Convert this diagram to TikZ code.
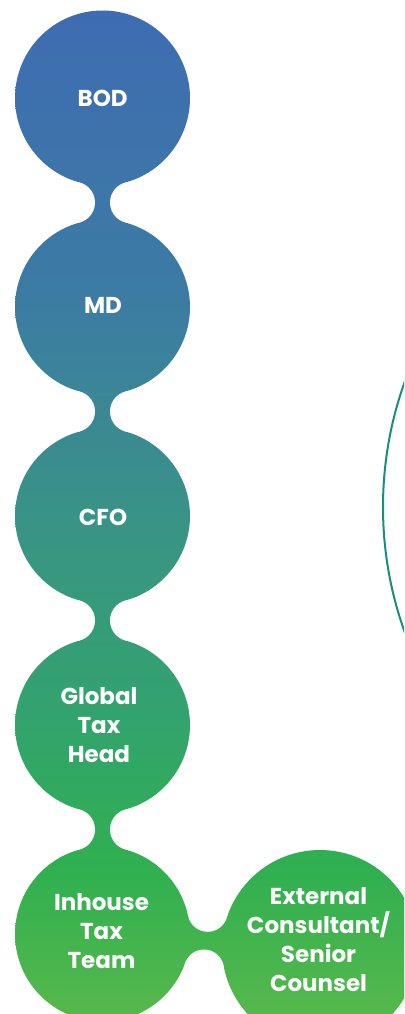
\documentclass[tikz,border=0pt]{standalone}
\usepackage{fontspec}
\setmainfont{Poppins}
\usetikzlibrary{calc}
\definecolor{s1}{RGB}{86,184,76}
\definecolor{s2}{RGB}{48,176,80}
\definecolor{s3}{RGB}{50,164,108}
\definecolor{s4}{RGB}{57,147,134}
\definecolor{s5}{RGB}{60,124,163}
\definecolor{s6}{RGB}{62,108,178}
\definecolor{arcteal}{RGB}{24,141,128}
\pgfdeclareverticalshading{orgshade}{100bp}{color(0bp)=(s1); color(25bp)=(s1); color(32bp)=(s2); color(39.25bp)=(s3); color(49.5bp)=(s4); color(60bp)=(s5); color(74.5bp)=(s6); color(100bp)=(s6)}
\newcommand\gradclip[1]{\begin{scope}\clip #1; \shade[shading=orgshade] (0,0) rectangle (404,1014);\end{scope}}
\newcommand\neckpiece[5]{%
  \path let \p1=(#1), \p2=(#2),
    \n1={veclen(\x2-\x1,\y2-\y1)},
    \n2={#3+#5}, \n3={#4+#5},
    \n4={\n1/2+(\n2-\n3)*(\n2+\n3)/(2*\n1)},
    \n5={sqrt((\n2-\n4)*(\n2+\n4))},
    \n6={(\x2-\x1)/\n1}, \n7={(\y2-\y1)/\n1}
  in coordinate (#1#2fa) at ({\x1+\n4*\n6-\n5*\n7},{\y1+\n4*\n7+\n5*\n6})
     coordinate (#1#2fb) at ({\x1+\n4*\n6+\n5*\n7},{\y1+\n4*\n7-\n5*\n6});
  \gradclip{($(#1)!{#3/(#3+#5)}!(#1#2fa)$) -- ($(#2)!{#4/(#4+#5)}!(#1#2fa)$) -- ($(#2)!{#4/(#4+#5)}!(#1#2fb)$) -- ($(#1)!{#3/(#3+#5)}!(#1#2fb)$) -- cycle}
  \fill[white] (#1#2fa) circle[radius=#5];
  \fill[white] (#1#2fb) circle[radius=#5];
}
\tikzset{
  lbl/.style={text=white, font=\fontsize{23}{29}\selectfont\bfseries, align=center, inner sep=0pt},
  arcline/.style={draw=arcteal, line width=2pt}
}
\begin{document}
\begin{tikzpicture}[x=1pt,y=-1pt]
\useasboundingbox (0,0) rectangle (404,1014);
% circle centres
\coordinate (cbod) at (102.5,98);
\coordinate (cmd) at (102.5,307);
\coordinate (ccfo) at (102.5,516);
\coordinate (cgth) at (102.5,725);
\coordinate (ciht) at (102.5,934);
\coordinate (cext) at (320,948);
\coordinate (carc) at (753,507);
% circles
\gradclip{(cbod) circle[radius=87.5]}
\gradclip{(cmd) circle[radius=87.5]}
\gradclip{(ccfo) circle[radius=87.5]}
\gradclip{(cgth) circle[radius=87.5]}
\gradclip{(ciht) circle[radius=87.5]}
\gradclip{(cext) circle[radius=98]}
% necks
\neckpiece{cbod}{cmd}{87.5}{87.5}{20.75}
\neckpiece{cmd}{ccfo}{87.5}{87.5}{20.75}
\neckpiece{ccfo}{cgth}{87.5}{87.5}{20.75}
\neckpiece{cgth}{ciht}{87.5}{87.5}{20.75}
\neckpiece{ciht}{cext}{87.5}{98}{20}
% labels
\node[lbl] (bod) at (102.7,98.5) {BOD};
\node[lbl] (md) at (103,305) {MD};
\node[lbl] (cfo) at (103,517) {CFO};
\node[lbl] (gth) at (99,725) {Global\\Tax\\Head};
\node[lbl] (iht) at (101.5,931.5) {Inhouse\\Tax\\Team};
\node[lbl] (ext) at (318.5,940) {External\\Consultant/\\Senior\\Counsel};
% arc at right
\begin{scope}
\clip (0,0) rectangle (404,1014);
\draw[arcline] (carc) circle[radius=370];
\end{scope}
\end{tikzpicture}
\end{document}
